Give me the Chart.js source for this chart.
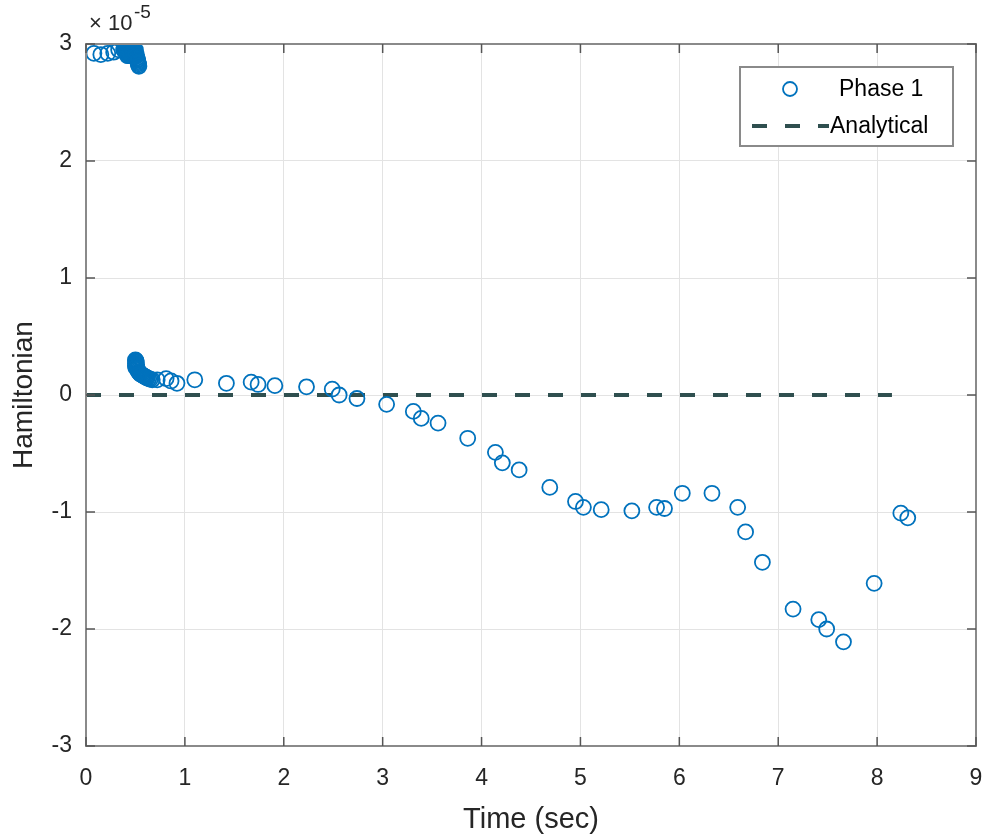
<!DOCTYPE html>
<html>
<head>
<meta charset="utf-8">
<script src="https://cdn.jsdelivr.net/npm/chart.js@4/dist/chart.umd.min.js"></script>
<style>
  html, body { margin: 0; padding: 0; background: #fff; }
  #wrap { width: 987px; height: 840px; position: relative; }
</style>
</head>
<body>
<div id="wrap"><canvas id="ham"></canvas></div>
<script>
// Hamiltonian values are in units of 1e-5 (axis shows x10^-5)
// first few nodes + dense cluster at the start
const earlyTime = [
  0.08, 0.15, 0.22, 0.28, 0.33,
  0.38, 0.39, 0.40, 0.41, 0.42, 0.43, 0.44, 0.45, 0.46, 0.47, 0.48, 0.49, 0.50,
  0.40, 0.41, 0.42, 0.43, 0.44, 0.45, 0.46, 0.47, 0.48, 0.49, 0.50, 0.51,
  0.42, 0.43, 0.44, 0.45, 0.46, 0.47, 0.48, 0.49, 0.50, 0.51, 0.515, 0.52,
  0.522, 0.525, 0.528, 0.53, 0.532, 0.535
];
const earlyHam = [
  2.92, 2.91, 2.92, 2.93, 2.95,
  2.95, 2.96, 2.96, 2.97, 2.97, 2.97, 2.98, 2.97, 2.97, 2.96, 2.96, 2.95, 2.95,
  2.93, 2.93, 2.94, 2.93, 2.93, 2.94, 2.93, 2.93, 2.92, 2.92, 2.92, 2.91,
  2.90, 2.90, 2.91, 2.90, 2.90, 2.90, 2.89, 2.89, 2.89, 2.88, 2.88, 2.87,
  2.86, 2.85, 2.84, 2.83, 2.82, 2.81
];
// cluster right after the jump
const jumpTime = [
  0.500, 0.503, 0.506, 0.509, 0.500, 0.505, 0.510, 0.500, 0.508, 0.512, 0.503, 0.515,
  0.520, 0.525, 0.530, 0.535, 0.540, 0.545, 0.550, 0.560, 0.570, 0.580, 0.590, 0.600,
  0.610, 0.620, 0.635, 0.650, 0.670
];
const jumpHam = [
  0.30, 0.295, 0.29, 0.28, 0.27, 0.265, 0.26, 0.25, 0.245, 0.24, 0.235, 0.23,
  0.22, 0.21, 0.20, 0.195, 0.19, 0.185, 0.18, 0.175, 0.17, 0.165, 0.16, 0.155,
  0.15, 0.145, 0.14, 0.135, 0.13
];
// remaining nodes
const lateTime = [
  0.72, 0.81, 0.86, 0.92, 1.10, 1.42, 1.67, 1.74, 1.91, 2.23, 2.49, 2.56, 2.74, 3.04,
  3.31, 3.39, 3.56, 3.86, 4.14, 4.21, 4.38, 4.69, 4.95, 5.03, 5.21, 5.52, 5.77, 5.85,
  6.03, 6.33, 6.59, 6.67, 6.84, 7.15, 7.41, 7.49, 7.66, 7.97, 8.24, 8.31
];
const lateHam = [
  0.13, 0.14, 0.12, 0.10, 0.13, 0.10, 0.11, 0.09, 0.08, 0.07, 0.05, 0.00, -0.03, -0.08,
  -0.14, -0.20, -0.24, -0.37, -0.49, -0.58, -0.64, -0.79, -0.91, -0.96, -0.98, -0.99, -0.96, -0.97,
  -0.84, -0.84, -0.96, -1.17, -1.43, -1.83, -1.92, -2.00, -2.11, -1.61, -1.01, -1.05
];
const analyticTime = [0, 8.15];
const analyticHam = [0, 0];
const xTicks = [0, 1, 2, 3, 4, 5, 6, 7, 8, 9];
const yTicks = [-3, -2, -1, 0, 1, 2, 3];

const phaseTime = earlyTime.concat(jumpTime, lateTime);
const phaseHam = earlyHam.concat(jumpHam, lateHam);

const FONT = '"Liberation Sans", Arial, Helvetica, sans-serif';
const BLUE = '#0072BD';
const DARK = '#2F4F4F';
const AXIS = '#8a8a8a';
const TXT = '#262626';

// box around the axes, inward ticks, exponent label and legend
const matlabAxes = {
  id: 'matlabAxes',
  afterDraw(chart) {
    const { ctx, chartArea: a, scales } = chart;
    const xs = scales.x, ys = scales.y;
    ctx.save();
    ctx.strokeStyle = AXIS;
    ctx.lineWidth = 2;
    ctx.strokeRect(a.left, a.top, a.right - a.left, a.bottom - a.top);
    ctx.lineWidth = 1.5;
    ctx.strokeStyle = '#555';
    ctx.beginPath();
    xTicks.forEach(v => {
      const px = xs.getPixelForValue(v);
      ctx.moveTo(px, a.bottom); ctx.lineTo(px, a.bottom - 9);
      ctx.moveTo(px, a.top); ctx.lineTo(px, a.top + 9);
    });
    yTicks.forEach(v => {
      const py = ys.getPixelForValue(v);
      ctx.moveTo(a.left, py); ctx.lineTo(a.left + 9, py);
      ctx.moveTo(a.right, py); ctx.lineTo(a.right - 9, py);
    });
    ctx.stroke();

    // exponent
    ctx.fillStyle = TXT;
    ctx.textBaseline = 'alphabetic';
    ctx.textAlign = 'left';
    ctx.font = '22px ' + FONT;
    ctx.fillText('\u00d7', a.left + 3, a.top - 14);
    ctx.fillText('10', a.left + 22, a.top - 14);
    ctx.font = '19px ' + FONT;
    ctx.fillText('-5', a.left + 48, a.top - 26);

    // legend
    const lx = 740, ly = 67, lw = 213, lh = 79;
    ctx.fillStyle = '#fff';
    ctx.fillRect(lx, ly, lw, lh);
    ctx.strokeStyle = AXIS;
    ctx.lineWidth = 2;
    ctx.strokeRect(lx, ly, lw, lh);
    ctx.strokeStyle = BLUE;
    ctx.lineWidth = 1.8;
    ctx.beginPath();
    ctx.arc(790, 89, 7, 0, Math.PI * 2);
    ctx.stroke();
    ctx.strokeStyle = DARK;
    ctx.lineWidth = 4;
    ctx.setLineDash([15, 18]);
    ctx.beginPath();
    ctx.moveTo(752, 126); ctx.lineTo(829, 126);
    ctx.stroke();
    ctx.setLineDash([]);
    ctx.fillStyle = '#000';
    ctx.font = '23px ' + FONT;
    ctx.textBaseline = 'middle';
    ctx.fillText('Phase 1', 839, 90);
    ctx.fillText('Analytical', 830, 127);
    ctx.restore();
  }
};

new Chart(document.getElementById('ham'), {
  type: 'scatter',
  data: {
    datasets: [
      {
        label: 'Phase 1',
        data: phaseTime.map((t, i) => ({ x: t, y: phaseHam[i] })),
        pointStyle: 'circle',
        pointRadius: 7.5,
        pointBorderWidth: 1.8,
        pointBorderColor: BLUE,
        pointBackgroundColor: 'rgba(0,0,0,0)',
        showLine: false
      },
      {
        label: 'Analytical',
        data: analyticTime.map((t, i) => ({ x: t, y: analyticHam[i] })),
        showLine: true,
        borderColor: DARK,
        borderWidth: 4,
        borderDash: [15, 18],
        pointRadius: 0
      }
    ]
  },
  options: {
    responsive: true,
    maintainAspectRatio: false,
    animation: false,
    layout: { padding: { top: 44, right: 11, left: 0, bottom: 0 } },
    plugins: { legend: { display: false }, tooltip: { enabled: false } },
    scales: {
      x: {
        type: 'linear', min: 0, max: 9,
        afterBuildTicks: s => { s.ticks = xTicks.map(v => ({ value: v })); },
        afterFit: s => { s.height = 94; s.paddingLeft = 0; s.paddingRight = 0; },
        grid: { color: '#e3e3e3', lineWidth: 1, drawTicks: false },
        border: { display: false },
        ticks: { color: TXT, font: { family: FONT, size: 23 }, padding: 19 },
        title: { display: true, text: 'Time (sec)', color: TXT,
                 font: { family: FONT, size: 29 }, padding: { top: 0, bottom: 3 } }
      },
      y: {
        type: 'linear', min: -3, max: 3,
        afterBuildTicks: s => { s.ticks = yTicks.map(v => ({ value: v })); },
        afterFit: s => { s.width = 86; s.paddingTop = 0; s.paddingBottom = 0; },
        grid: { color: '#e3e3e3', lineWidth: 1, drawTicks: false },
        border: { display: false },
        ticks: { color: TXT, font: { family: FONT, size: 23 }, padding: 14 },
        title: { display: true, text: 'Hamiltonian', color: TXT,
                 font: { family: FONT, size: 28 }, padding: { top: 7, bottom: 0 } }
      }
    }
  },
  plugins: [matlabAxes]
});
</script>
</body>
</html>
